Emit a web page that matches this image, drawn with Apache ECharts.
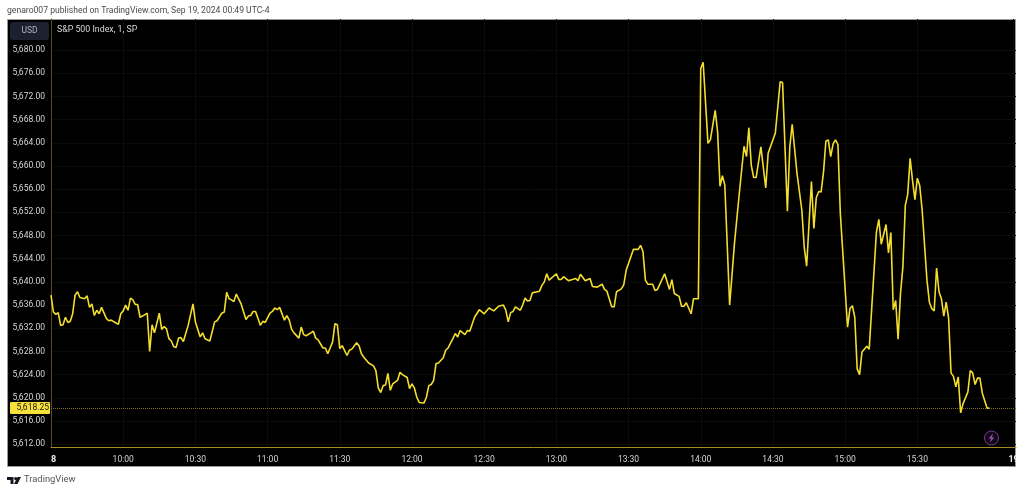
<!DOCTYPE html>
<html>
<head>
<meta charset="utf-8">
<title>S&P 500 Index, 1, SP</title>
<style>
html,body{margin:0;padding:0;background:#fff}
#chart{width:1024px;height:492px}
</style>
<script src="https://cdn.jsdelivr.net/npm/echarts@6/dist/echarts.min.js"></script>
</head>
<body>
<div id="chart"></div>
<script>
// minutes after the 9:30 open, only where the line turns
var minutes = [0,1,2,3,4,5,6,7,8,9,10,11,12,14,15,16,17,18,19,20,21,23,24,25,27,28,29,30,31,32,33,34,35,36,37,38,40,41,42,43,45,46,47,48,49,50,51,52,53,54,55,57,59,60,62,63,64,66,68,69,71,72,73,74,75,76,77,79,81,82,83,84,85,87,88,89,91,92,93,94,95,
97,98,99,100,101,103,104,105,106,108,109,110,111,113,114,115,117,118,119,120,121,123,124,125,127,128,129,130,132,134,135,136,137,138,139,140,141,142,144,145,146,148,149,150,151,152,153,155,156,157,158,159,160,161,163,164,165,167,168,169,170,172,173,174,176,178,180,182,184,186,188,189,190,191,
192,193,195,196,197,198,199,200,203,204,205,206,207,210,211,212,213,215,218,219,220,222,224,225,227,229,230,231,233,234,235,237,238,239,242,244,245,246,247,248,250,251,252,255,257,258,259,261,262,263,264,266,267,269,
270,271,273,274,276,277,278,279,280,282,284,286,288,289,290,291,292,293,295,297,298,301,303,304,306,307,308,310,312,313,314,315,316,317,318,319,320,321,322,323,324,325,326,327,328,
331,332,333,334,335,336,337,339,340,343,344,345,347,348,349,350,351,352,353,354,355,356,357,358,359,360,361,362,364,365,366,367,368,369,370,371,372,373,374,375,376,377,378,379,381,382,383,384,385,386,387,389,390];
var prices = [5637.7,5634.8,5634.4,5634.7,5632.5,5632.6,5633.9,5633.0,5633.2,5634.5,5637.7,5638.3,5637.3,5637.1,5637.6,5635.6,5636.2,5634.2,5635.1,5634.5,5635.6,5633.7,5633.3,5633.4,5632.9,5632.7,5634.5,5635.0,5636.0,5635.1,5637.2,5636.9,5636.1,5636.1,5633.9,5634.1,5634.6,5628.0,5632.6,5631.2,5634.6,5631.8,5632.3,5631.9,5630.2,5629.8,5628.8,5628.7,5630.3,5630.4,5629.7,5632.5,5636.2,5633.1,5630.5,5631.2,5630.2,5629.8,5633.1,5633.3,5634.6,5634.8,5638.2,5637.1,5636.9,5636.6,5637.9,5636.2,5633.5,5634.1,5634.2,5634.9,5634.9,5632.5,5633.2,5633.0,5634.6,5634.9,5635.5,5635.2,5635.6,
5633.4,5634.2,5633.4,5631.8,5631.2,5630.3,5632.2,5630.9,5630.7,5631.2,5631.5,5630.3,5630.0,5628.6,5628.6,5627.6,5629.6,5632.8,5632.6,5628.5,5629.0,5627.3,5628.2,5628.4,5629.5,5629.0,5627.6,5627.0,5626.0,5625.5,5624.7,5621.7,5620.9,5622.1,5622.2,5624.2,5621.3,5622.4,5623.0,5624.4,5624.0,5623.5,5621.6,5622.4,5621.7,5620.1,5619.2,5619.1,5620.1,5622.1,5622.3,5623.0,5625.9,5626.0,5626.9,5628.2,5628.6,5630.2,5631.1,5630.5,5631.6,5630.9,5631.6,5631.5,5633.9,5635.2,5634.5,5635.5,5635.0,5635.8,5636.0,5635.1,5633.1,5634.7,
5634.9,5635.7,5635.1,5636.0,5637.2,5636.7,5636.8,5638.1,5638.4,5639.4,5640.0,5641.4,5640.3,5641.4,5640.4,5640.4,5640.9,5640.2,5640.6,5640.2,5641.3,5640.2,5640.6,5639.2,5639.1,5639.6,5638.7,5638.4,5635.7,5635.7,5638.3,5638.8,5639.5,5642.0,5645.6,5645.6,5646.3,5645.2,5640.3,5639.6,5639.6,5638.5,5638.7,5641.4,5638.7,5640.4,5638.0,5637.5,5635.8,5635.8,5636.4,5634.5,5637.1,5637.1,
5676.8,5677.9,5663.9,5664.5,5669.6,5665.9,5656.5,5658.3,5656.7,5636.0,5646.6,5655.2,5663.4,5661.6,5666.6,5660.1,5658.0,5658.0,5663.3,5656.2,5662.2,5665.7,5674.5,5674.4,5652.2,5663.3,5667.2,5658.7,5652.4,5646.0,5642.7,5650.1,5657.3,5649.2,5654.5,5655.6,5655.5,5658.9,5664.3,5664.5,5661.6,5663.8,5664.5,5663.7,5651.8,
5632.2,5635.4,5635.9,5633.9,5625.0,5624.0,5627.9,5628.9,5628.4,5648.6,5650.8,5646.5,5649.9,5645.0,5648.5,5635.2,5636.8,5630.1,5638.0,5642.6,5653.2,5655.1,5661.3,5657.5,5654.2,5657.9,5656.6,5652.4,5640.3,5636.5,5635.4,5635.0,5642.4,5638.3,5637.1,5634.1,5636.5,5633.7,5624.3,5623.7,5621.9,5623.6,5617.4,5619.0,5621.0,5624.7,5624.3,5622.3,5623.4,5623.4,5620.8,5618.2,5618.25];
var lastPrice = 5618.25;
var lastPriceLabel = '5,618.25';
var priceTicks = [5612,5616,5620,5624,5628,5632,5636,5640,5644,5648,5652,5656,5660,5664,5668,5672,5676,5680];
var timeTicks = [0,30,60,90,120,150,180,210,240,270,300,330,360,400];
var timeLabels = ['18','10:00','10:30','11:00','11:30','12:00','12:30','13:00','13:30','14:00','14:30','15:00','15:30','19'];
var headerText = 'genaro007 published on TradingView.com, Sep 19, 2024 00:49 UTC-4';
var titleText = 'S&P 500 Index, 1, SP';
var currencyText = 'USD';
var brandText = 'TradingView';

var font = 'Roboto, "Noto Sans", sans-serif';
var chart = echarts.init(document.getElementById('chart'), null, {renderer: 'canvas'});

function fmtPrice(v) {
	return v.toLocaleString('en-US', {minimumFractionDigits: 2, maximumFractionDigits: 2});
}

var linePoints = minutes.map(function(m, i) { return [m, prices[i]]; });

chart.setOption({
	animation: false,
	backgroundColor: '#fff',
	grid: {left: 51, right: 8, top: 19, bottom: 44.5},
	xAxis: {
		type: 'value', min: 0, max: 401,
		axisLine: {show: true, onZero: false, lineStyle: {color: '#a48d22', width: 1}},
		axisTick: {show: false, customValues: timeTicks},
		splitLine: {show: true, lineStyle: {color: '#0c0c07', width: 1}},
		axisLabel: {
			customValues: timeTicks, margin: 8, fontFamily: font, fontSize: 8.5, color: '#d6d6d6',
			hideOverlap: false,
			formatter: function(v) {
				var s = timeLabels[timeTicks.indexOf(v)];
				return s.length == 2 ? '{day|' + s + '}' : s;
			},
			rich: {day: {fontFamily: font, fontSize: 9, fontWeight: 'bold', color: '#ececec'}}
		}
	},
	yAxis: {
		type: 'value', min: 5611.43, max: 5685.35,
		axisLine: {show: true, onZero: false, lineStyle: {color: '#5a4e14', width: 1}},
		axisTick: {show: false, customValues: priceTicks},
		splitLine: {show: true, lineStyle: {color: '#0c0c07', width: 1}},
		axisLabel: {
			customValues: priceTicks, margin: 6, fontFamily: font, fontSize: 8.5, color: '#d6d6d6',
			hideOverlap: false,
			formatter: fmtPrice
		}
	},
	series: [{
		type: 'line', data: linePoints, showSymbol: false, symbol: 'none', smooth: false,
		lineStyle: {color: '#f3de2c', width: 1.6}, z: 5,
		markLine: {
			silent: true, symbol: 'none', animation: false,
			lineStyle: {color: '#7d7020', type: 'dotted', width: 1},
			label: {
				show: true, position: 'start', formatter: lastPriceLabel, distance: 1,
				backgroundColor: '#f7e03a', color: '#1a1a1a', fontFamily: font, fontSize: 8.5,
				padding: [2, 1, 1, 5], width: 34, height: 9, borderRadius: 1
			},
			data: [{yAxis: lastPrice}]
		}
	}],
	graphic: [
		// panel behind the plot
		{type: 'rect', z: -10, silent: true, shape: {x: 7.5, y: 19.5, width: 1008, height: 447}, style: {fill: '#000', stroke: '#9a9a9a', lineWidth: 1}},
		{type: 'text', x: 7, y: 6, silent: true, style: {text: headerText, fill: '#4a4a4a', font: '8.6px ' + font}},
		{type: 'rect', z: 20, silent: true, shape: {x: 10, y: 22, width: 39, height: 18, r: 3}, style: {fill: '#1c2030'}},
		{type: 'text', z: 21, x: 29.5, y: 31, silent: true, style: {text: currencyText, fill: '#b2b5be', font: '8.5px ' + font, align: 'center', verticalAlign: 'middle'}},
		{type: 'text', z: 21, x: 57, y: 30, silent: true, style: {text: titleText, fill: '#d8d8d8', font: '8.8px ' + font, verticalAlign: 'middle'}},
		// the day labels are cut by the price scale and by the panel edge
		{type: 'rect', z: 20, silent: true, shape: {x: 40, y: 449, width: 10.5, height: 16}, style: {fill: '#000'}},
		{type: 'rect', z: 20, silent: true, shape: {x: 1016, y: 449, width: 8, height: 16}, style: {fill: '#fff'}},
		// purple badge
		{type: 'circle', z: 20, silent: true, shape: {cx: 991.5, cy: 438, r: 7}, style: {fill: 'rgba(120,50,150,0.15)', stroke: '#7a3b96', lineWidth: 1}},
		{type: 'polygon', z: 21, silent: true, shape: {points: [[993,433.5],[988.5,438.5],[991,438.5],[990,442.5],[994.5,437.5],[992,437.5]]}, style: {fill: '#8e4aac'}},
		// TradingView mark
		{type: 'polygon', silent: true, shape: {points: [[7,477],[13.5,477],[13.5,484],[10.5,484],[10.5,480],[7,480]]}, style: {fill: '#131722'}},
		{type: 'circle', silent: true, shape: {cx: 15.7, cy: 478.6, r: 1.6}, style: {fill: '#131722'}},
		{type: 'polygon', silent: true, shape: {points: [[17.5,477],[21,477],[17.5,484],[14,484]]}, style: {fill: '#131722'}},
		{type: 'text', x: 24, y: 480, silent: true, style: {text: brandText, fill: '#555', font: '9.4px ' + font, verticalAlign: 'middle'}}
	]
});
</script>
</body>
</html>
